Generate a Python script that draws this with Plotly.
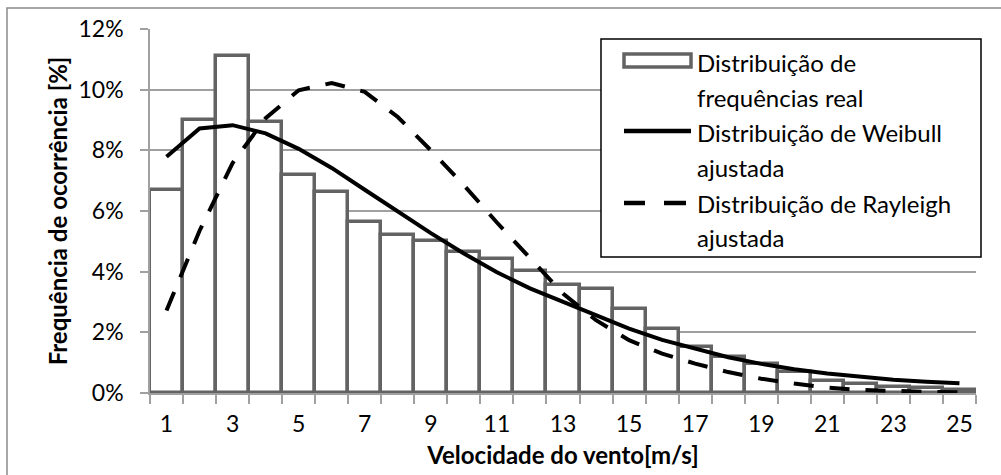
import plotly.graph_objects as go

# ---- data ----
speeds = list(range(1, 26))
freq_real = [6.70, 9.00, 11.10, 8.95, 7.20, 6.63, 5.65, 5.22, 5.02, 4.66, 4.43, 4.03, 3.55,
             3.42, 2.76, 2.10, 1.53, 1.18, 0.95, 0.68, 0.40, 0.29, 0.21, 0.15, 0.10]
weibull = [7.79, 8.72, 8.83, 8.56, 8.05, 7.42, 6.70, 5.98, 5.27, 4.60, 3.98, 3.45, 3.00,
           2.55, 2.12, 1.75, 1.45, 1.18, 0.96, 0.78, 0.64, 0.53, 0.44, 0.37, 0.32]
rayleigh = [2.72, 5.35, 7.58, 9.06, 9.98, 10.22, 9.93, 9.10, 8.00, 6.85, 5.62, 4.44, 3.28,
            2.40, 1.74, 1.30, 0.97, 0.69, 0.47, 0.31, 0.18, 0.10, 0.06, 0.04, 0.02]
xtick_vals = list(range(1, 26, 2))
ytick_vals = [0, 0.02, 0.04, 0.06, 0.08, 0.10, 0.12]
legend_labels = [["Distribuição de", "frequências real"],
                 ["Distribuição de Weibull", "ajustada"],
                 ["Distribuição de Rayleigh", "ajustada"]]
x_title = "Velocidade do vento[m/s]"
y_title = "Frequência de ocorrência [%]"

# ---- layout geometry ----
W, H = 1001, 475
L, R, T, B = 150, 25, 29, 82
PW, PH = W - L - R, H - T - B
FONT = "Lato"
BAR_COL = "#636363"
GRID_COL = "#a0a0a0"


def px(x):
    return (x - L) / PW


def py(y):
    return (H - B - y) / PH


fig = go.Figure()
fig.add_trace(go.Bar(x=speeds, y=[v / 100 for v in freq_real], width=1.0,
                     marker=dict(color="white", line=dict(color=BAR_COL, width=3.5)),
                     name=" ".join(legend_labels[0]), showlegend=False))
fig.add_trace(go.Scatter(x=speeds, y=[v / 100 for v in weibull], mode="lines",
                         line=dict(color="black", width=4),
                         name=" ".join(legend_labels[1]), showlegend=False))
fig.add_trace(go.Scatter(x=speeds, y=[v / 100 for v in rayleigh], mode="lines",
                         line=dict(color="black", width=4, dash="20px,16px"),
                         name=" ".join(legend_labels[2]), showlegend=False))

shapes = []
# outer chart border (left & top visible)
shapes.append(dict(type="rect", xref="paper", yref="paper",
                   x0=px(7), x1=px(1030), y0=py(8), y1=py(520),
                   line=dict(color="#8a8a8a", width=1.5), fillcolor="rgba(0,0,0,0)",
                   layer="below"))
# legend box
lx0, lx1, ly0, ly1 = 601, 981, 39, 257
shapes.append(dict(type="rect", xref="paper", yref="paper",
                   x0=px(lx0), x1=px(lx1), y0=py(ly0), y1=py(ly1),
                   line=dict(color="black", width=1.5), fillcolor="white", layer="above"))
sx0, sx1 = 624, 691
# legend symbol: bar
shapes.append(dict(type="rect", xref="paper", yref="paper",
                   x0=px(sx0), x1=px(sx1), y0=py(54), y1=py(67),
                   line=dict(color=BAR_COL, width=3.5), fillcolor="white", layer="above"))
# legend symbol: solid line
shapes.append(dict(type="line", xref="paper", yref="paper",
                   x0=px(sx0), x1=px(sx1), y0=py(131), y1=py(131),
                   line=dict(color="black", width=4.5), layer="above"))
# legend symbol: dashed line (two dashes)
for a, b in [(624, 645), (664, 686)]:
    shapes.append(dict(type="line", xref="paper", yref="paper",
                       x0=px(a), x1=px(b), y0=py(203), y1=py(203),
                       line=dict(color="black", width=4.5), layer="above"))

annotations = []
line_y = [62, 97, 132, 167, 203, 237]
k = 0
for lab in legend_labels:
    for t in lab:
        annotations.append(dict(xref="paper", yref="paper", x=px(695), y=py(line_y[k]),
                                text=t, showarrow=False, xanchor="left", yanchor="middle",
                                font=dict(family=FONT, size=24, color="black")))
        k += 1

fig.update_layout(
    width=W, height=H,
    margin=dict(l=L, r=R, t=T, b=B, autoexpand=False),
    paper_bgcolor="white", plot_bgcolor="white",
    bargap=0, showlegend=False,
    shapes=shapes, annotations=annotations,
    font=dict(family=FONT, size=23, color="black"),
)
fig.update_xaxes(
    range=[0.5, 25.5], tickmode="array", tickvals=xtick_vals,
    ticks="", showgrid=False, zeroline=False,
    showline=True, linecolor=GRID_COL, linewidth=1.5,
    minor=dict(tick0=0.5, dtick=1, ticks="outside", ticklen=9, tickcolor=GRID_COL,
               tickwidth=1.5, showgrid=False),
    tickfont=dict(family=FONT, size=23), ticklabelstandoff=10,
    title=dict(text="<b>" + x_title + "</b>", font=dict(family=FONT, size=24), standoff=11),
    fixedrange=True,
)
fig.update_yaxes(
    range=[0, 0.12], tickmode="array", tickvals=ytick_vals, tickformat=".0%",
    ticks="outside", ticklen=8, tickcolor=GRID_COL, tickwidth=1.5,
    showgrid=True, gridcolor=GRID_COL, gridwidth=1.5, zeroline=False,
    showline=True, linecolor=GRID_COL, linewidth=1.5,
    tickfont=dict(family=FONT, size=23), ticklabelstandoff=12,
    title=dict(text="<b>" + y_title + "</b>", font=dict(family=FONT, size=24), standoff=4),
    fixedrange=True,
)

fig.write_html("out.html", config={"displayModeBar": False},
               post_script="document.body.style.margin='0';")
